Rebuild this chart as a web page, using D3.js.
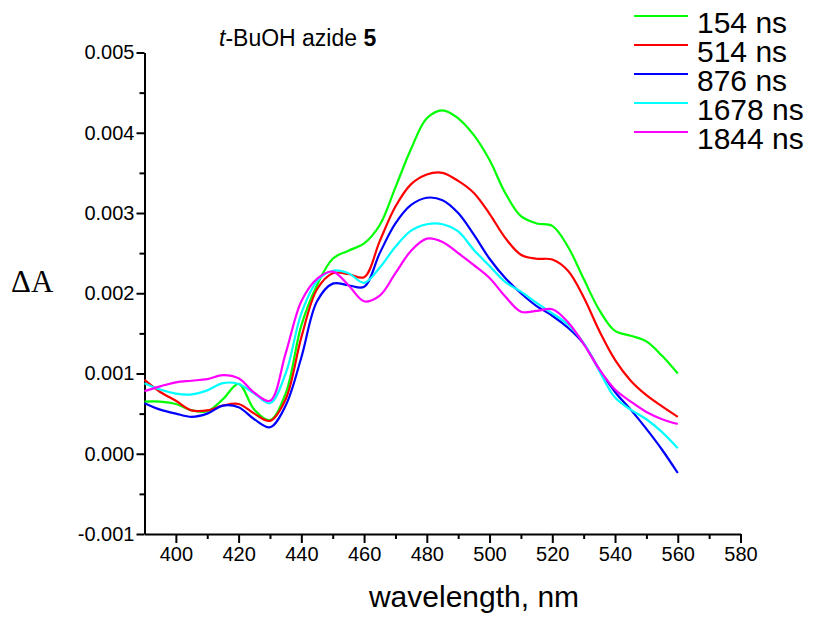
<!DOCTYPE html>
<html>
<head>
    <title>t-BuOH azide 5 transient spectra</title>
    <script src="https://d3js.org/d3.v7.min.js"></script>
    <style>
        body {
            margin: 0;
            background: #fff;
            font-family: "Liberation Sans", Arial, sans-serif;
        }
        .line {
            fill: none;
            stroke-width: 2.2;
        }
        .axis path, .axis line {
            stroke: #000;
            stroke-width: 2;
        }
        .axis text {
            font-family: "Liberation Sans", Arial, sans-serif;
            font-size: 20px;
            fill: #000;
        }
    </style>
</head>
<body>
    <div id="chart"></div>

    <script>
        // wavelengths (nm) every 5 nm
        const wavelengths = [390, 395, 400, 405, 410, 415, 420, 425, 430, 435, 440, 445, 450, 455, 460, 465, 470, 475,
                             480, 485, 490, 495, 500, 505, 510, 515, 520, 525, 530, 535, 540, 545, 550, 555, 560];

        const labels = ["154 ns", "514 ns", "876 ns", "1678 ns", "1844 ns"];
        const colors = ["#00ff00", "#ff0000", "#0000ff", "#00ffff", "#ff00ff"];

        const ns154 = [0.00065, 0.00065, 0.00062, 0.00054, 0.00053, 0.00068, 0.00087, 0.00055, 0.00042, 0.00075, 0.00160, 0.00210,
                       0.00243, 0.00253, 0.00262, 0.00285, 0.00332, 0.00380, 0.00418, 0.00428, 0.00418, 0.00397, 0.00366, 0.00325,
                       0.00296, 0.00287, 0.00284, 0.00258, 0.00218, 0.00179, 0.00153, 0.00147, 0.00140, 0.00122, 0.00100];
        const ns514 = [0.00092, 0.00077, 0.00066, 0.00054, 0.00054, 0.00060, 0.00062, 0.00050, 0.00041, 0.00068, 0.00145, 0.00205,
                       0.00225, 0.00224, 0.00220, 0.00265, 0.00308, 0.00336, 0.00348, 0.00350, 0.00340, 0.00325, 0.00299, 0.00269,
                       0.00248, 0.00243, 0.00242, 0.00228, 0.00195, 0.00153, 0.00117, 0.00091, 0.00073, 0.00059, 0.00046];
        const ns876 = [0.00063, 0.00055, 0.00050, 0.00046, 0.00050, 0.00060, 0.00058, 0.00043, 0.00033, 0.00060, 0.00120, 0.00190,
                       0.00212, 0.00210, 0.00208, 0.00250, 0.00287, 0.00310, 0.00319, 0.00316, 0.00300, 0.00273, 0.00243, 0.00219,
                       0.00200, 0.00184, 0.00172, 0.00157, 0.00137, 0.00105, 0.00077, 0.00055, 0.00031, 0.00005, -0.00024];
        const ns1678 = [0.00088, 0.00080, 0.00075, 0.00074, 0.00079, 0.00088, 0.00087, 0.00075, 0.00063, 0.00100, 0.00175, 0.00215,
                        0.00228, 0.00225, 0.00213, 0.00232, 0.00258, 0.00278, 0.00286, 0.00286, 0.00277, 0.00254, 0.00234, 0.00214,
                        0.00202, 0.00188, 0.00175, 0.00161, 0.00138, 0.00103, 0.00070, 0.00055, 0.00043, 0.00027, 0.00007];
        const ns1844 = [0.00078, 0.00084, 0.00089, 0.00091, 0.00093, 0.00098, 0.00094, 0.00076, 0.00066, 0.00125, 0.00190, 0.00218,
                        0.00227, 0.00210, 0.00190, 0.00197, 0.00225, 0.00253, 0.00268, 0.00264, 0.00250, 0.00235, 0.00219, 0.00196,
                        0.00177, 0.00178, 0.00180, 0.00164, 0.00137, 0.00105, 0.00080, 0.00065, 0.00052, 0.00043, 0.00037];

        const seriesValues = [ns154, ns514, ns876, ns1678, ns1844];

        const xMajor = [400, 420, 440, 460, 480, 500, 520, 540, 560, 580];
        const xMinor = [410, 430, 450, 470, 490, 510, 530, 550, 570];
        const yMajor = [-0.001, 0.000, 0.001, 0.002, 0.003, 0.004, 0.005];
        const yMinor = [-0.0005, 0.0005, 0.0015, 0.0025, 0.0035, 0.0045];

        const W = 817, H = 617;
        const margin = { top: 52.5, right: 76.5, bottom: 83, left: 144.5 },
              width = W - margin.left - margin.right,
              height = H - margin.top - margin.bottom;

        const svgRoot = d3.select("#chart")
                          .append("svg")
                          .attr("width", W)
                          .attr("height", H);

        const svg = svgRoot.append("g")
                           .attr("transform", `translate(${margin.left},${margin.top})`);

        const x = d3.scaleLinear().domain([390, 580]).range([0, width]);
        const y = d3.scaleLinear().domain([-0.001, 0.005]).range([height, 0]);

        const fmt = d => (Math.abs(d) < 1e-9 ? 0 : d).toFixed(3);

        // x axis, major + minor ticks
        svg.append("g")
           .attr("class", "axis")
           .attr("transform", `translate(0,${height})`)
           .call(d3.axisBottom(x).tickValues(xMajor).tickSize(9).tickSizeOuter(0).tickPadding(4).tickFormat(d3.format("d")));
        svg.append("g")
           .attr("class", "axis")
           .attr("transform", `translate(0,${height})`)
           .call(d3.axisBottom(x).tickValues(xMinor).tickSize(5).tickSizeOuter(0).tickFormat(""))
           .select(".domain").remove();

        // y axis
        svg.append("g")
           .attr("class", "axis")
           .call(d3.axisLeft(y).tickValues(yMajor).tickSize(8).tickSizeOuter(0).tickPadding(2).tickFormat(fmt));
        svg.append("g")
           .attr("class", "axis")
           .call(d3.axisLeft(y).tickValues(yMinor).tickSize(5).tickSizeOuter(0).tickFormat(""))
           .select(".domain").remove();

        const line = d3.line()
                       .x((d, i) => x(wavelengths[i]))
                       .y(d => y(d))
                       .curve(d3.curveCatmullRom.alpha(0.5));

        svg.selectAll(".line")
           .data(seriesValues)
           .enter()
           .append("path")
           .attr("class", "line")
           .attr("stroke", (d, i) => colors[i])
           .attr("d", d => line(d));

        // title
        const title = svgRoot.append("text")
                             .attr("x", 219)
                             .attr("y", 46)
                             .style("font-size", "23px");
        title.append("tspan").style("font-style", "italic").text("t");
        title.append("tspan").text("-BuOH azide ");
        title.append("tspan").style("font-weight", "bold").text("5");

        // axis titles
        svgRoot.append("text")
               .attr("x", 474)
               .attr("y", 607)
               .attr("text-anchor", "middle")
               .style("font-size", "30px")
               .text("wavelength, nm");

        svgRoot.append("text")
               .attr("x", 11)
               .attr("y", 292)
               .style("font-family", "'Liberation Serif', 'Times New Roman', serif")
               .style("font-size", "31px")
               .text("ΔA");

        // legend
        const legend = svgRoot.selectAll(".legend")
                              .data(labels)
                              .enter()
                              .append("g")
                              .attr("class", "legend")
                              .attr("transform", (d, i) => `translate(634,${16 + i * 29})`);

        legend.append("line")
              .attr("x1", 0)
              .attr("x2", 54)
              .attr("stroke", (d, i) => colors[i])
              .attr("stroke-width", 2.2);

        legend.append("text")
              .attr("x", 63)
              .attr("y", 17)
              .style("font-size", "30px")
              .text(d => d);
    </script>
</body>
</html>
